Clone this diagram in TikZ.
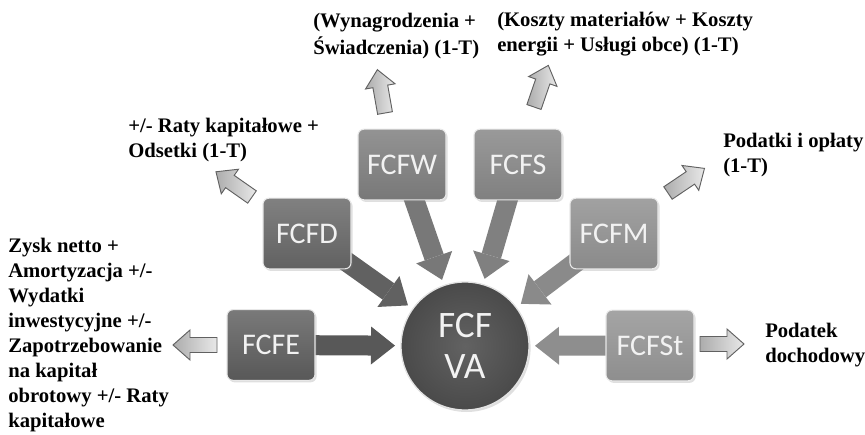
\documentclass[tikz,border=0pt]{standalone}
\usepackage{fontspec}
\setmainfont{Liberation Serif}
\newfontfamily\boxfont{Carlito}
\usetikzlibrary{arrows.meta,shadows,backgrounds}
\definecolor{cE}{HTML}{585858}
\definecolor{cD}{HTML}{616161}
\definecolor{cW}{HTML}{787878}
\definecolor{cS}{HTML}{808080}
\definecolor{cM}{HTML}{8A8A8A}
\definecolor{cSt}{HTML}{8E8E8E}
\definecolor{cCin}{HTML}{626262}
\definecolor{cCout}{HTML}{4A4A4A}
\definecolor{txtw}{HTML}{F2F2F2}
\begin{document}
\begin{tikzpicture}[x=0.75pt,y=-0.75pt,
  box/.style={rounded corners=4.5pt, minimum width=66pt, minimum height=53pt,
    inner sep=0pt, draw=white!82!gray, line width=0.8pt,
    top color=#1!80!white, bottom color=#1,
    font=\boxfont\fontsize{22.5}{27}\selectfont, text=txtw,
    drop shadow={shadow xshift=1.2pt, shadow yshift=-1.5pt, opacity=0.25}},
  conn/.style={draw=#1, line width=15pt,
    -{Triangle[length=18pt 0, width=28.5pt 0, line width=0pt 0]}},
  lab/.style={anchor=north west, inner sep=0pt, align=left,
    font=\bfseries\fontsize{15.5}{18.75}\selectfont},
  outarrow/.pic={
    \draw[draw=black!62, line width=0.7pt, line join=miter,
      left color=gray!65, right color=gray!18]
      (0,7.5) -- (27,7.5) -- (27,15) -- (44,0) -- (27,-15) -- (27,-7.5) -- (0,-7.5) -- cycle;}
]
\useasboundingbox (0,0) rectangle (865,435);

% central circle
\node[circle, minimum size=96pt, inner sep=0pt, outer sep=4.5pt,
  draw=white!78!gray, line width=1pt, inner color=cCin, outer color=cCout,
  drop shadow={shadow xshift=1.2pt, shadow yshift=-1.5pt, opacity=0.25},
  font=\boxfont\fontsize{28}{30.75}\selectfont, text=txtw, align=center]
  (C) at (465,346) {FCF\\VA};

% boxes
\node[box=cE]  (FCFE)  at (271,345)   {FCFE};
\node[box=cD]  (FCFD)  at (307,233.5) {FCFD};
\node[box=cW]  (FCFW)  at (402,164.5) {FCFW};
\node[box=cS]  (FCFS)  at (518,164.5) {FCFS};
\node[box=cM]  (FCFM)  at (614,233.5) {FCFM};
\node[box=cSt] (FCFSt) at (650,345.5) {FCFSt};

% thick connectors into the circle
\begin{scope}[on background layer]
  \draw[conn=cE]  (FCFE.center)  -- (C);
  \draw[conn=cD]  (FCFD.center)  -- (C);
  \draw[conn=cW]  (FCFW.center)  -- (C);
  \draw[conn=cS]  (FCFS.center)  -- (C);
  \draw[conn=cM]  (FCFM.center)  -- (C);
  \draw[conn=cSt] (FCFSt.center) -- (C);
\end{scope}

% outer arrows
\pic[rotate=180] at (217,345) {outarrow};
\pic[rotate=145] at (252,197) {outarrow};
\pic[rotate=100] at (385,113) {outarrow};
\pic[rotate=71]  at (534,107) {outarrow};
\pic[rotate=34]  at (668,193) {outarrow};
\pic[rotate=0]   at (700,344) {outarrow};

% labels
\node[lab] (tW) at (313,9.8) {\strut(Wynagrodzenia +\\Świadczenia) (1-T)};
\node[lab] (tS) at (497,8.8) {\strut(Koszty materiałów + Koszty\\energii + Usługi obce) (1-T)};
\node[lab] (tD) at (128,114.8) {\strut+/- Raty kapitałowe +\\Odsetki (1-T)};
\node[lab] (tM) at (723,129.8) {\strut Podatki i opłaty\\(1-T)};
\node[lab] (tE) at (8,234.8) {\strut Zysk netto +\\Amortyzacja +/-\\Wydatki\\inwestycyjne +/-\\Zapotrzebowanie\\na kapitał\\obrotowy +/- Raty\\kapitałowe};
\node[lab] (tSt) at (765,319.8) {\strut Podatek\\dochodowy};
\end{tikzpicture}
\end{document}
